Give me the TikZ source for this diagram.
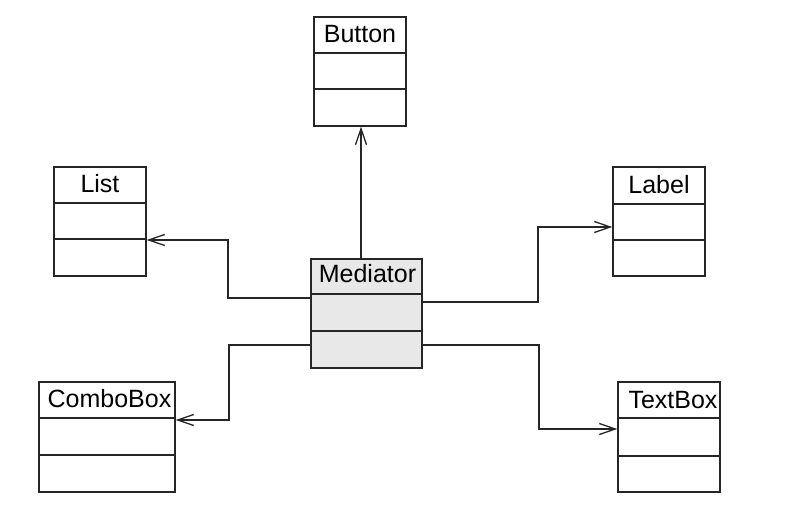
\documentclass[tikz,border=0pt]{standalone}
\usepackage{fontspec}
\setmainfont{Liberation Sans}
\usetikzlibrary{arrows.meta}
\begin{document}
\begin{tikzpicture}[x=1pt,y=-1pt,
  cls/.style={draw=black!85, line width=1.4pt, rectangle, inner sep=0pt, fill=white},
  med/.style={cls, fill=black!9},
  title/.style={anchor=base, inner sep=0pt, font=\fontsize{25}{30}\selectfont, text=black},
  sep/.style={draw=black!85, line width=1.4pt},
  link/.style={draw=black!85, line width=1.3pt, -{Straight Barb[length=16pt,width=11pt,line width=1.3pt]}}]
\useasboundingbox (0,0) rectangle (794,510);

% class boxes
\node[cls, minimum width=92pt, minimum height=109pt] (button) at (360,71.5) {};
\node[cls, minimum width=92pt, minimum height=109pt] (list) at (100,221.5) {};
\node[med, minimum width=111pt, minimum height=109pt] (mediator) at (366.5,313.5) {};
\node[cls, minimum width=92pt, minimum height=109pt] (label) at (659,221.5) {};
\node[cls, minimum width=136pt, minimum height=110pt] (combo) at (107,437) {};
\node[cls, minimum width=102pt, minimum height=110pt] (textbox) at (669,437) {};

% compartment separators
\foreach \n/\a/\b in {button/53/89, list/203/239, mediator/294/331,
                      label/204/240, combo/418/455, textbox/418/456} {
  \draw[sep] (\n.west |- 0,\a) -- (\n.east |- 0,\a);
  \draw[sep] (\n.west |- 0,\b) -- (\n.east |- 0,\b);
}

% class names
\node[title] (tbutton) at (360,43) {Button};
\node[title] (tlist) at (100,193) {List};
\node[title] (tmediator) at (367.5,283) {Mediator};
\node[title] (tlabel) at (659,194) {Label};
\node[title] (tcombo) at (109.5,407) {ComboBox};
\node[title] (ttextbox) at (673,408) {TextBox};

% attachment points on the mediator
\coordinate (mtop) at (mediator.north -| 361,0);
\coordinate (mlist) at (mediator.west |- 0,298);
\coordinate (mcombo) at (mediator.west |- 0,345);
\coordinate (mlabel) at (mediator.east |- 0,302);
\coordinate (mtext) at (mediator.east |- 0,345);

% associations
\draw[link] (mtop) -- (button.south -| mtop);
\draw[link] (mlist) -| (228,270) |- (list.east |- 0,240);
\draw[link] (mcombo) -| (229,380) |- (combo.east |- 0,420);
\draw[link] (mlabel) -| (538,260) |- (label.west |- 0,227);
\draw[link] (mtext) -| (539,390) |- (textbox.west |- 0,429);
\end{tikzpicture}
\end{document}
